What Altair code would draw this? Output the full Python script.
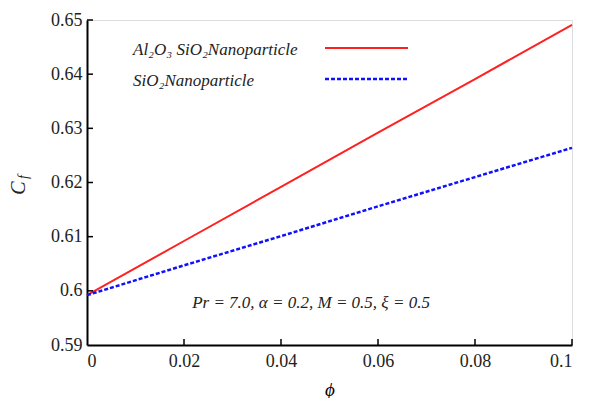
import altair as alt
import pandas as pd

phi = [0.0, 0.02, 0.04, 0.06, 0.08, 0.1]
cf_hybrid = [0.5992, 0.6092, 0.6192, 0.6292, 0.6391, 0.6491]
cf_sio2 = [0.5992, 0.6047, 0.6101, 0.6156, 0.6210, 0.6264]
series_names = ["Al\u2082O\u2083 SiO\u2082Nanoparticle", "SiO\u2082Nanoparticle"]
x_ticks = [0.0, 0.02, 0.04, 0.06, 0.08, 0.1]
y_ticks = [0.59, 0.60, 0.61, 0.62, 0.63, 0.64, 0.65]
annotation = "Pr = 7.0,  \u03b1 = 0.2, M = 0.5, \u03be = 0.5"

W, H = 485, 325
FONT = "'Times New Roman', 'Liberation Serif', Times, serif"

rows = []
for p, a, b in zip(phi, cf_hybrid, cf_sio2):
    rows.append({"phi": p, "cf": a, "series": series_names[0]})
    rows.append({"phi": p, "cf": b, "series": series_names[1]})
df = pd.DataFrame(rows)

xs = alt.Scale(domain=[0, 0.1], nice=False, zero=False)
ys = alt.Scale(domain=[0.59, 0.65], nice=False, zero=False)

axis_common = dict(
    grid=False, ticks=False, domainColor="black", domainWidth=2,
    labelFont=FONT, labelFontSize=18, labelColor="#222", format="~g",
)

base = alt.Chart(df)

red = base.transform_filter(alt.datum.series == series_names[0]).mark_line(
    color="#ff2020", strokeWidth=2
).encode(
    x=alt.X("phi:Q", scale=xs, axis=alt.Axis(values=x_ticks, title="\u03d5", titleFont=FONT,
            titleFontStyle="italic", titleFontWeight="normal", titleFontSize=19,
            titlePadding=10, labelPadding=7, **axis_common)),
    y=alt.Y("cf:Q", scale=ys, axis=alt.Axis(values=y_ticks, title=None, labelPadding=5,
            **axis_common)),
)
blue = base.transform_filter(alt.datum.series == series_names[1]).mark_line(
    color="#1010ff", strokeWidth=2.5, strokeDash=[4, 2]
).encode(x=alt.X("phi:Q", scale=xs), y=alt.Y("cf:Q", scale=ys))

xt = alt.Chart(pd.DataFrame({"v": x_ticks[1:]})).mark_rule(color="black", strokeWidth=1.5).encode(
    x=alt.X("v:Q", scale=xs), y=alt.value(H), y2=alt.value(H - 6))
yt = alt.Chart(pd.DataFrame({"v": y_ticks[1:]})).mark_rule(color="black", strokeWidth=1.5).encode(
    y=alt.Y("v:Q", scale=ys), x=alt.value(0), x2=alt.value(6))

one = pd.DataFrame({"a": [0]})
leg_text = []
leg_line = []
for i, (name, col, dash) in enumerate(zip(series_names, ["#ff2020", "#1010ff"], [[1, 0], [4, 2]])):
    leg_text.append(alt.Chart(one).mark_text(
        text=name, font=FONT, fontStyle="italic", fontSize=17, align="left", baseline="middle", color="#222"
    ).encode(x=alt.value(46), y=alt.value(30 + 31 * i)))
    leg_line.append(alt.Chart(one).mark_rule(color=col, strokeWidth=2 if i == 0 else 2.5, strokeDash=dash).encode(
        x=alt.value(238), x2=alt.value(321), y=alt.value(28 + 31 * i)))

ann = alt.Chart(one).mark_text(
    text=annotation, font=FONT, fontStyle="italic", fontSize=17, align="center", baseline="middle", color="#222"
).encode(x=alt.value(224), y=alt.value(283))

ytitle_c = alt.Chart(one).mark_text(
    text="C", font=FONT, fontStyle="italic", fontSize=20, angle=270, align="center", baseline="middle", color="#222"
).encode(x=alt.value(-68), y=alt.value(168))
ytitle_f = alt.Chart(one).mark_text(
    text="f", font=FONT, fontStyle="italic", fontSize=14, angle=270, align="center", baseline="middle", color="#222"
).encode(x=alt.value(-63), y=alt.value(157))

chart = alt.layer(red, blue, xt, yt, *leg_text, *leg_line, ann, ytitle_c, ytitle_f).properties(
    width=W, height=H,
    autosize=alt.AutoSizeParams(type="none"),
    padding={"left": 87, "top": 20, "right": 18, "bottom": 53},
).configure_view(stroke=None).configure_axis(labelFont=FONT, titleFont=FONT).configure(background="white")

chart.save("out.html", embed_options={"renderer": "svg", "actions": False})
